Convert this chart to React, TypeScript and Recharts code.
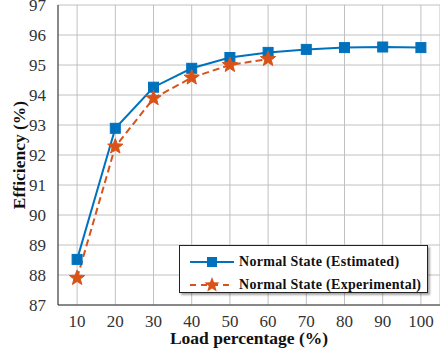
import { LineChart, Line, XAxis, YAxis, CartesianGrid, Label } from 'recharts';

const loads = [10, 20, 30, 40, 50, 60, 70, 80, 90, 100];
const estimated = [88.52, 92.89, 94.26, 94.89, 95.25, 95.42, 95.52, 95.58, 95.6, 95.58];
const experimental = [87.9, 92.28, 93.89, 94.58, 95.0, 95.2];
const xTicks = [10, 20, 30, 40, 50, 60, 70, 80, 90, 100];
const yTicks = [87, 88, 89, 90, 91, 92, 93, 94, 95, 96, 97];

const BLUE = '#0072BD';
const ORANGE = '#D95319';
const FONT = 'Liberation Serif, Times New Roman, serif';

const data = loads.map((load, i) => ({
  load,
  estimated: estimated[i],
  experimental: i < experimental.length ? experimental[i] : undefined,
}));

function starPath(cx: number, cy: number, outer: number, inner: number) {
  let d = '';
  for (let i = 0; i < 10; i++) {
    const r = i % 2 === 0 ? outer : inner;
    const a = -Math.PI / 2 + (i * Math.PI) / 5;
    d += (i === 0 ? 'M' : 'L') + (cx + r * Math.cos(a)).toFixed(2) + ',' + (cy + r * Math.sin(a)).toFixed(2);
  }
  return d + 'Z';
}

const SquareDot = (props: any) => {
  const { cx, cy, key } = props;
  if (cx == null || cy == null) return null;
  return <rect key={key} x={cx - 5} y={cy - 5} width={10} height={10} fill={BLUE} stroke={BLUE} />;
};

const StarDot = (props: any) => {
  const { cx, cy, key, value } = props;
  if (cx == null || cy == null || value == null) return null;
  return <path key={key} d={starPath(cx, cy, 8, 3.4)} fill={ORANGE} stroke={ORANGE} />;
};

const tickStyle = { fontFamily: FONT, fontSize: 17, fill: '#333' };

const XTick = (props: any) => {
  const { x, y, payload } = props;
  return (
    <text x={x} y={y + 14} textAnchor="middle" style={tickStyle}>
      {payload.value}
    </text>
  );
};

const YTick = (props: any) => {
  const { x, y, payload } = props;
  return (
    <text x={x - 4} y={y + 6} textAnchor="end" style={tickStyle}>
      {payload.value}
    </text>
  );
};

function LegendBox() {
  const row = (color: string, dashed: boolean, star: boolean, text: string) => (
    <div style={{ display: 'flex', alignItems: 'center', height: 23 }}>
      <svg width={46} height={20} style={{ marginLeft: 10 }}>
        <line x1={0} y1={10} x2={44} y2={10} stroke={color} strokeWidth={2} strokeDasharray={dashed ? '6 5' : undefined} />
        {star ? (
          <path d={starPath(22, 10, 8, 3.4)} fill={color} />
        ) : (
          <rect x={17} y={5} width={10} height={10} fill={color} />
        )}
      </svg>
      <span style={{ fontFamily: FONT, fontWeight: 'bold', fontSize: 14, color: '#111', marginLeft: 3, whiteSpace: 'nowrap', letterSpacing: 0.3 }}>{text}</span>
    </div>
  );
  return (
    <div
      style={{
        position: 'absolute',
        left: 179,
        top: 245,
        background: '#fff',
        border: '1px solid #222',
        boxShadow: '2px 2px 2px rgba(0,0,0,0.35)',
        padding: '4px 0 0 0',
        boxSizing: 'border-box',
        width: 249,
        height: 48,
      }}
    >
      {row(BLUE, false, false, 'Normal State (Estimated)')}
      {row(ORANGE, true, true, 'Normal State (Experimental)')}
    </div>
  );
}

export default function App() {
  return (
    <div style={{ position: 'absolute', left: 0, top: 0, width: 440, height: 354, background: '#fff', fontFamily: FONT }}>
      <LineChart
        width={440}
        height={354}
        data={data}
        margin={{ top: 5, right: 0, bottom: 0, left: 0 }}
      >
        <CartesianGrid stroke="#c0c0c0" strokeWidth={1} horizontal vertical />
        <XAxis
          dataKey="load"
          type="number"
          domain={[5, 105]}
          ticks={xTicks}
          tick={<XTick />}
          tickLine={false}
          axisLine={{ stroke: '#333' }}
          height={49}
        >
          <Label
            value="Load percentage (%)"
            position="insideBottom"
            offset={10}
            style={{ fontFamily: FONT, fontWeight: 'bold', fontSize: 17.5, fill: '#111' }}
          />
        </XAxis>
        <XAxis xAxisId="top" orientation="top" dataKey="load" type="number" domain={[5, 105]} tick={false} tickLine={false} height={0} axisLine={{ stroke: '#888' }} />
        <YAxis
          type="number"
          domain={[87, 97]}
          ticks={yTicks}
          width={58}
          tick={<YTick />}
          tickLine={false}
          axisLine={{ stroke: '#333' }}
          interval={0}
        >
          <Label
            value="Efficiency (%)"
            angle={-90}
            position="insideLeft"
            offset={19}
            style={{ fontFamily: FONT, fontWeight: 'bold', fontSize: 17.5, fill: '#111', textAnchor: 'middle' }}
          />
        </YAxis>
        <Line
          dataKey="estimated"
          stroke={BLUE}
          strokeWidth={2}
          dot={SquareDot}
          activeDot={false}
          isAnimationActive={false}
        />
        <Line
          dataKey="experimental"
          stroke={ORANGE}
          strokeWidth={2}
          strokeDasharray="7 4"
          dot={StarDot}
          activeDot={false}
          connectNulls={false}
          isAnimationActive={false}
        />
      </LineChart>
      <LegendBox />
    </div>
  );
}
